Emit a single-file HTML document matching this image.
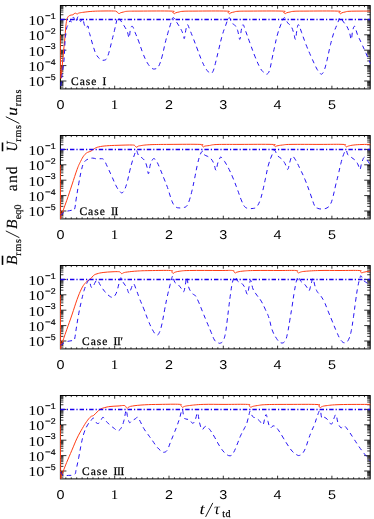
<!DOCTYPE html>
<html><head><meta charset="utf-8"><title>fig</title>
<style>
html,body{margin:0;padding:0;background:#fff;}
body{width:374px;height:519px;overflow:hidden;}
svg text{font-family:"Liberation Serif",serif;fill:#000;}
svg text{filter:grayscale(1);text-rendering:geometricPrecision;}
svg text.mono{font-family:"Liberation Sans",sans-serif;}
</style></head><body>
<svg width="374" height="519" viewBox="0 0 374 519" style="display:block">
<rect width="374" height="519" fill="#fff"/>
<defs>
<clipPath id="c0"><rect x="59.8" y="5" width="311" height="84.4"/></clipPath>
<clipPath id="c1"><rect x="59.8" y="135" width="311" height="84.4"/></clipPath>
<clipPath id="c2"><rect x="59.8" y="265" width="311" height="84.4"/></clipPath>
<clipPath id="c3"><rect x="59.8" y="395" width="311" height="84.4"/></clipPath>
</defs>
<path d="M60.4 19.4h6M370.2 19.4h-6M60.4 14.76h3M370.2 14.76h-3M60.4 12.05h3M370.2 12.05h-3M60.4 10.13h3M370.2 10.13h-3M60.4 8.64h3M370.2 8.64h-3M60.4 7.42h3M370.2 7.42h-3M60.4 6.39h3M370.2 6.39h-3M60.4 34.8h6M370.2 34.8h-6M60.4 30.16h3M370.2 30.16h-3M60.4 27.45h3M370.2 27.45h-3M60.4 25.53h3M370.2 25.53h-3M60.4 24.04h3M370.2 24.04h-3M60.4 22.82h3M370.2 22.82h-3M60.4 21.79h3M370.2 21.79h-3M60.4 20.89h3M370.2 20.89h-3M60.4 20.1h3M370.2 20.1h-3M60.4 50.2h6M370.2 50.2h-6M60.4 45.56h3M370.2 45.56h-3M60.4 42.85h3M370.2 42.85h-3M60.4 40.93h3M370.2 40.93h-3M60.4 39.44h3M370.2 39.44h-3M60.4 38.22h3M370.2 38.22h-3M60.4 37.19h3M370.2 37.19h-3M60.4 36.29h3M370.2 36.29h-3M60.4 35.5h3M370.2 35.5h-3M60.4 65.6h6M370.2 65.6h-6M60.4 60.96h3M370.2 60.96h-3M60.4 58.25h3M370.2 58.25h-3M60.4 56.33h3M370.2 56.33h-3M60.4 54.84h3M370.2 54.84h-3M60.4 53.62h3M370.2 53.62h-3M60.4 52.59h3M370.2 52.59h-3M60.4 51.69h3M370.2 51.69h-3M60.4 50.9h3M370.2 50.9h-3M60.4 81h6M370.2 81h-6M60.4 76.36h3M370.2 76.36h-3M60.4 73.65h3M370.2 73.65h-3M60.4 71.73h3M370.2 71.73h-3M60.4 70.24h3M370.2 70.24h-3M60.4 69.02h3M370.2 69.02h-3M60.4 67.99h3M370.2 67.99h-3M60.4 67.09h3M370.2 67.09h-3M60.4 66.3h3M370.2 66.3h-3M60.4 87.13h3M370.2 87.13h-3M60.4 85.64h3M370.2 85.64h-3M60.4 84.42h3M370.2 84.42h-3M60.4 83.39h3M370.2 83.39h-3M60.4 82.49h3M370.2 82.49h-3M60.4 81.7h3M370.2 81.7h-3M65.83 88.9v-1.6M65.83 5.5v1.6M71.26 88.9v-1.6M71.26 5.5v1.6M76.69 88.9v-1.6M76.69 5.5v1.6M82.12 88.9v-1.6M82.12 5.5v1.6M87.55 88.9v-1.6M87.55 5.5v1.6M92.98 88.9v-1.6M92.98 5.5v1.6M98.41 88.9v-1.6M98.41 5.5v1.6M103.84 88.9v-1.6M103.84 5.5v1.6M109.27 88.9v-1.6M109.27 5.5v1.6M114.7 88.9v-3.2M114.7 5.5v3.2M120.13 88.9v-1.6M120.13 5.5v1.6M125.56 88.9v-1.6M125.56 5.5v1.6M130.99 88.9v-1.6M130.99 5.5v1.6M136.42 88.9v-1.6M136.42 5.5v1.6M141.85 88.9v-1.6M141.85 5.5v1.6M147.28 88.9v-1.6M147.28 5.5v1.6M152.71 88.9v-1.6M152.71 5.5v1.6M158.14 88.9v-1.6M158.14 5.5v1.6M163.57 88.9v-1.6M163.57 5.5v1.6M169 88.9v-3.2M169 5.5v3.2M174.43 88.9v-1.6M174.43 5.5v1.6M179.86 88.9v-1.6M179.86 5.5v1.6M185.29 88.9v-1.6M185.29 5.5v1.6M190.72 88.9v-1.6M190.72 5.5v1.6M196.15 88.9v-1.6M196.15 5.5v1.6M201.58 88.9v-1.6M201.58 5.5v1.6M207.01 88.9v-1.6M207.01 5.5v1.6M212.44 88.9v-1.6M212.44 5.5v1.6M217.87 88.9v-1.6M217.87 5.5v1.6M223.3 88.9v-3.2M223.3 5.5v3.2M228.73 88.9v-1.6M228.73 5.5v1.6M234.16 88.9v-1.6M234.16 5.5v1.6M239.59 88.9v-1.6M239.59 5.5v1.6M245.02 88.9v-1.6M245.02 5.5v1.6M250.45 88.9v-1.6M250.45 5.5v1.6M255.88 88.9v-1.6M255.88 5.5v1.6M261.31 88.9v-1.6M261.31 5.5v1.6M266.74 88.9v-1.6M266.74 5.5v1.6M272.17 88.9v-1.6M272.17 5.5v1.6M277.6 88.9v-3.2M277.6 5.5v3.2M283.03 88.9v-1.6M283.03 5.5v1.6M288.46 88.9v-1.6M288.46 5.5v1.6M293.89 88.9v-1.6M293.89 5.5v1.6M299.32 88.9v-1.6M299.32 5.5v1.6M304.75 88.9v-1.6M304.75 5.5v1.6M310.18 88.9v-1.6M310.18 5.5v1.6M315.61 88.9v-1.6M315.61 5.5v1.6M321.04 88.9v-1.6M321.04 5.5v1.6M326.47 88.9v-1.6M326.47 5.5v1.6M331.9 88.9v-3.2M331.9 5.5v3.2M337.33 88.9v-1.6M337.33 5.5v1.6M342.76 88.9v-1.6M342.76 5.5v1.6M348.19 88.9v-1.6M348.19 5.5v1.6M353.62 88.9v-1.6M353.62 5.5v1.6M359.05 88.9v-1.6M359.05 5.5v1.6M364.48 88.9v-1.6M364.48 5.5v1.6" stroke="#000" stroke-width="0.8" fill="none"/>
<rect x="60.4" y="5.5" width="309.8" height="83.4" fill="none" stroke="#000" stroke-width="1.0"/>
<g clip-path="url(#c0)" fill="none" stroke-linejoin="round">
<path d="M60.3 35C60.34 40 60.4 51.6 60.5 60C60.6 68.4 60.6 74.2 60.8 77C61 79.8 61.02 78.4 61.5 74C61.98 69.6 62.52 62.26 63.2 55C63.88 47.74 64.32 43.94 64.9 37.7C65.48 31.46 65.58 27.8 66.1 23.8C66.62 19.8 66.7 19.4 67.5 17.7C68.3 16 69.04 15.88 70.1 15.3C71.16 14.72 71.86 15.2 72.8 14.8C73.74 14.4 74.16 13.58 74.8 13.3C75.44 13.02 75.52 13.26 76 13.4C76.48 13.54 76.7 14.04 77.2 14C77.7 13.96 77.94 13.44 78.5 13.2C79.06 12.96 78.9 13 80 12.8C81.1 12.6 81.46 12.5 84 12.2C86.54 11.9 88.9 11.54 92.7 11.3C96.5 11.06 98.84 11.06 103 11C107.16 10.94 110.9 10.94 113.5 11C116.1 11.06 115.14 10.98 116 11.3C116.86 11.62 117.2 12.11 117.8 12.6C118.4 13.09 118.46 13.71 119 13.75C119.54 13.79 119.58 13.15 120.5 12.8C121.42 12.45 122.24 12.3 123.6 12C124.96 11.7 124.02 11.48 127.3 11.3C130.58 11.12 131.26 11.14 140 11.1C148.74 11.06 164.44 10.84 171 11.1C177.56 11.36 172.16 11.87 172.8 12.4C173.44 12.93 173.62 13.67 174.2 13.75C174.78 13.83 174.74 13.15 175.7 12.8C176.66 12.45 177.54 12.3 179 12C180.46 11.7 179.8 11.48 183 11.3C186.2 11.12 186.36 11.14 195 11.1C203.64 11.06 219.6 10.84 226.2 11.1C232.8 11.36 227.36 11.87 228 12.4C228.64 12.93 228.82 13.67 229.4 13.75C229.98 13.83 229.98 13.15 230.9 12.8C231.82 12.45 232.58 12.3 234 12C235.42 11.7 234.8 11.48 238 11.3C241.2 11.12 241.22 11.14 250 11.1C258.78 11.06 275.16 10.84 281.9 11.1C288.64 11.36 283.06 11.87 283.7 12.4C284.34 12.93 284.52 13.67 285.1 13.75C285.68 13.83 285.62 13.15 286.6 12.8C287.58 12.45 288.52 12.3 290 12C291.48 11.7 290.8 11.48 294 11.3C297.2 11.12 297.36 11.14 306 11.1C314.64 11.06 330.6 10.84 337.2 11.1C343.8 11.36 338.36 11.87 339 12.4C339.64 12.93 339.82 13.67 340.4 13.75C340.98 13.83 340.98 13.15 341.9 12.8C342.82 12.45 343.58 12.3 345 12C346.42 11.7 346 11.48 349 11.3C352 11.12 355.72 11.14 360 11.1C364.28 11.06 368.32 11.1 370.4 11.1" stroke="#ff3c14" stroke-width="1.0"/>
<path d="M60.8 86C61.04 83.88 61.56 78.96 62 75.4C62.44 71.84 62.56 71.78 63 68.2C63.44 64.62 63.8 62.74 64.2 57.5C64.6 52.26 64.72 46.6 65 42C65.28 37.4 65.26 37.3 65.6 34.5C65.94 31.7 66.24 29.86 66.7 28C67.16 26.14 67.42 26.3 67.9 25.2C68.38 24.1 68.64 23.44 69.1 22.5C69.56 21.56 69.82 20.6 70.2 20.5C70.58 20.4 70.64 21.9 71 22C71.36 22.1 71.54 21.96 72 21C72.46 20.04 72.78 17.5 73.3 17.2C73.82 16.9 74.14 18.54 74.6 19.5C75.06 20.46 75.16 21.9 75.6 22C76.04 22.1 76.34 21.04 76.8 20C77.26 18.96 77.4 17 77.9 16.8C78.4 16.6 78.76 18.06 79.3 19C79.84 19.94 80.1 21.4 80.6 21.5C81.1 21.6 81.32 20.04 81.8 19.5C82.28 18.96 82.56 17.98 83 18.8C83.44 19.62 83.54 22 84 23.6C84.46 25.2 84.8 25.96 85.3 26.8C85.8 27.64 85.96 27.96 86.5 27.8C87.04 27.64 87.52 25.3 88 26C88.48 26.7 88.5 29.52 88.9 31.3C89.3 33.08 89.24 32.24 90 34.9C90.76 37.56 91.48 40.74 92.7 44.6C93.92 48.46 94.54 51.24 96.1 54.2C97.66 57.16 98.92 58.2 100.5 59.4C102.08 60.6 102.78 60.38 104 60.2C105.22 60.02 105.56 60.22 106.6 58.5C107.64 56.78 108.16 55.08 109.2 51.6C110.24 48.12 110.76 45.28 111.8 41.1C112.84 36.92 113.48 34.52 114.4 30.7C115.32 26.88 115.72 24.6 116.4 22C117.08 19.4 117 18.04 117.8 17.7C118.6 17.36 119.18 18.74 120.4 20.3C121.62 21.86 122.52 23.24 123.9 25.5C125.28 27.76 126.26 29.16 127.3 31.6C128.34 34.04 128.46 38.22 129.1 37.7C129.74 37.18 129.82 31.26 130.5 29C131.18 26.74 131.58 25.7 132.5 26.4C133.42 27.1 133.88 29.56 135.1 32.5C136.32 35.44 137.04 36.94 138.6 41.1C140.16 45.26 141.16 48.96 142.9 53.3C144.64 57.64 145.56 59.86 147.3 62.8C149.04 65.74 150.04 66.78 151.6 68C153.16 69.22 153.7 69.24 155.1 68.9C156.5 68.56 157.22 68.72 158.6 66.3C159.98 63.88 160.68 61.48 162 56.8C163.32 52.12 164.04 47.6 165.2 42.9C166.36 38.2 166.76 36.94 167.8 33.3C168.84 29.66 169.36 27.82 170.4 24.7C171.44 21.58 171.78 18.24 173 17.7C174.22 17.16 174.94 19.74 176.5 22C178.06 24.26 179.5 26.6 180.8 29C182.1 31.4 182.3 32.1 183 34C183.7 35.9 183.76 39.16 184.3 38.5C184.84 37.84 185.08 33.46 185.7 30.7C186.32 27.94 186.64 25.04 187.4 24.7C188.16 24.36 188.38 26.4 189.5 29C190.62 31.6 191.44 33.7 193 37.7C194.56 41.7 195.58 44.5 197.3 49C199.02 53.5 199.86 56.22 201.6 60.2C203.34 64.18 204.26 66.3 206 68.9C207.74 71.5 208.92 72.68 210.3 73.2C211.68 73.72 211.9 73.4 212.9 71.5C213.9 69.6 214.18 67.9 215.3 63.7C216.42 59.5 217.14 56.06 218.5 50.5C219.86 44.94 220.68 40.9 222.1 35.9C223.52 30.9 224.2 29.14 225.6 25.5C227 21.86 227.88 18.22 229.1 17.7C230.32 17.18 230.5 21.34 231.7 22.9C232.9 24.46 233.9 23.94 235.1 25.5C236.3 27.06 236.76 27.92 237.7 30.7C238.64 33.48 239.1 39.4 239.8 39.4C240.5 39.4 240.56 33.64 241.2 30.7C241.84 27.76 242.14 24.7 243 24.7C243.86 24.7 244.12 27.06 245.5 30.7C246.88 34.34 247.98 37.68 249.9 42.9C251.82 48.12 253.04 51.78 255.1 56.8C257.16 61.82 258.42 64.84 260.2 68C261.98 71.16 262.64 71.38 264 72.6C265.36 73.82 265.86 74.66 267 74.1C268.14 73.54 268.68 72.92 269.7 69.8C270.72 66.68 271.1 63.18 272.1 58.5C273.1 53.82 273.66 51.08 274.7 46.4C275.74 41.72 276.08 39.44 277.3 35.1C278.52 30.76 279.4 28.18 280.8 24.7C282.2 21.22 282.92 18.06 284.3 17.7C285.68 17.34 286.32 21.16 287.7 22.9C289.08 24.64 290 24.38 291.2 26.4C292.4 28.42 292.84 30.4 293.7 33C294.56 35.6 294.88 39.86 295.5 39.4C296.12 38.94 296.2 33.64 296.8 30.7C297.4 27.76 297.54 24.34 298.5 24.7C299.46 25.06 300.1 28.52 301.6 32.5C303.1 36.48 304.08 39.74 306 44.6C307.92 49.46 309.12 52.12 311.2 56.8C313.28 61.48 314.74 64.84 316.4 68C318.06 71.16 318.42 71.38 319.5 72.6C320.58 73.82 320.82 74.66 321.8 74.1C322.78 73.54 323.36 72.58 324.4 69.8C325.44 67.02 325.78 65.24 327 60.2C328.22 55.16 329.12 50.14 330.5 44.6C331.88 39.06 332.52 36.66 333.9 32.5C335.28 28.34 336.18 26.76 337.4 23.8C338.62 20.84 338.78 18.06 340 17.7C341.22 17.34 342.12 20.26 343.5 22C344.88 23.74 345.68 24.2 346.9 26.4C348.12 28.6 348.72 30.4 349.6 33C350.48 35.6 350.7 39.8 351.3 39.4C351.9 39 351.92 33.6 352.6 31C353.28 28.4 353.76 25.76 354.7 26.4C355.64 27.04 355.9 30.74 357.3 34.2C358.7 37.66 359.96 39.88 361.7 43.7C363.44 47.52 364.26 49.34 366 53.3C367.74 57.26 369.52 61.46 370.4 63.5" stroke="#2614f4" stroke-width="1.0" stroke-dasharray="4.4 3.7"/>
<path d="M60.4 19.5H370.2" stroke="#1a00f0" stroke-width="1.35" stroke-dasharray="4.4 2 1.2 2"/>
</g>
<text x="28.3" y="24.8" font-size="13.6" textLength="16.0" lengthAdjust="spacingAndGlyphs">10</text>
<path d="M45.4 15.7H50.3" stroke="#000" stroke-width="1.0" fill="none"/>
<text x="50.7" y="18.6" font-size="8.4" class="mono" textLength="4.9" lengthAdjust="spacingAndGlyphs" stroke="#000" stroke-width="0.2">1</text>
<text x="28.3" y="40.2" font-size="13.6" textLength="16.0" lengthAdjust="spacingAndGlyphs">10</text>
<path d="M45.4 31.1H50.3" stroke="#000" stroke-width="1.0" fill="none"/>
<text x="50.7" y="34" font-size="8.4" class="mono" textLength="4.9" lengthAdjust="spacingAndGlyphs" stroke="#000" stroke-width="0.2">2</text>
<text x="28.3" y="55.6" font-size="13.6" textLength="16.0" lengthAdjust="spacingAndGlyphs">10</text>
<path d="M45.4 46.5H50.3" stroke="#000" stroke-width="1.0" fill="none"/>
<text x="50.7" y="49.4" font-size="8.4" class="mono" textLength="4.9" lengthAdjust="spacingAndGlyphs" stroke="#000" stroke-width="0.2">3</text>
<text x="28.3" y="71" font-size="13.6" textLength="16.0" lengthAdjust="spacingAndGlyphs">10</text>
<path d="M45.4 61.9H50.3" stroke="#000" stroke-width="1.0" fill="none"/>
<text x="50.7" y="64.8" font-size="8.4" class="mono" textLength="4.9" lengthAdjust="spacingAndGlyphs" stroke="#000" stroke-width="0.2">4</text>
<text x="28.3" y="86.4" font-size="13.6" textLength="16.0" lengthAdjust="spacingAndGlyphs">10</text>
<path d="M45.4 77.3H50.3" stroke="#000" stroke-width="1.0" fill="none"/>
<text x="50.7" y="80.2" font-size="8.4" class="mono" textLength="4.9" lengthAdjust="spacingAndGlyphs" stroke="#000" stroke-width="0.2">5</text>
<text x="56.4" y="108.5" font-size="12.8" class="mono" textLength="8.0" lengthAdjust="spacingAndGlyphs">0</text>
<text x="110.8" y="108.5" font-size="13.4" textLength="7.6" lengthAdjust="spacingAndGlyphs">1</text>
<text x="165" y="108.5" font-size="12.8" class="mono" textLength="8.0" lengthAdjust="spacingAndGlyphs">2</text>
<text x="219.3" y="108.5" font-size="12.8" class="mono" textLength="8.0" lengthAdjust="spacingAndGlyphs">3</text>
<text x="273.6" y="108.5" font-size="12.8" class="mono" textLength="8.0" lengthAdjust="spacingAndGlyphs">4</text>
<text x="327.9" y="108.5" font-size="12.8" class="mono" textLength="8.0" lengthAdjust="spacingAndGlyphs">5</text>
<text x="71" y="85" font-size="11.5" letter-spacing="1.0" stroke="#000" stroke-width="0.25">Case</text>
<text x="102.5" y="85" font-size="11.5" letter-spacing="-0.3" stroke="#000" stroke-width="0.25">I</text>
<path d="M60.4 149.4h6M370.2 149.4h-6M60.4 144.76h3M370.2 144.76h-3M60.4 142.05h3M370.2 142.05h-3M60.4 140.13h3M370.2 140.13h-3M60.4 138.64h3M370.2 138.64h-3M60.4 137.42h3M370.2 137.42h-3M60.4 136.39h3M370.2 136.39h-3M60.4 164.8h6M370.2 164.8h-6M60.4 160.16h3M370.2 160.16h-3M60.4 157.45h3M370.2 157.45h-3M60.4 155.53h3M370.2 155.53h-3M60.4 154.04h3M370.2 154.04h-3M60.4 152.82h3M370.2 152.82h-3M60.4 151.79h3M370.2 151.79h-3M60.4 150.89h3M370.2 150.89h-3M60.4 150.1h3M370.2 150.1h-3M60.4 180.2h6M370.2 180.2h-6M60.4 175.56h3M370.2 175.56h-3M60.4 172.85h3M370.2 172.85h-3M60.4 170.93h3M370.2 170.93h-3M60.4 169.44h3M370.2 169.44h-3M60.4 168.22h3M370.2 168.22h-3M60.4 167.19h3M370.2 167.19h-3M60.4 166.29h3M370.2 166.29h-3M60.4 165.5h3M370.2 165.5h-3M60.4 195.6h6M370.2 195.6h-6M60.4 190.96h3M370.2 190.96h-3M60.4 188.25h3M370.2 188.25h-3M60.4 186.33h3M370.2 186.33h-3M60.4 184.84h3M370.2 184.84h-3M60.4 183.62h3M370.2 183.62h-3M60.4 182.59h3M370.2 182.59h-3M60.4 181.69h3M370.2 181.69h-3M60.4 180.9h3M370.2 180.9h-3M60.4 211h6M370.2 211h-6M60.4 206.36h3M370.2 206.36h-3M60.4 203.65h3M370.2 203.65h-3M60.4 201.73h3M370.2 201.73h-3M60.4 200.24h3M370.2 200.24h-3M60.4 199.02h3M370.2 199.02h-3M60.4 197.99h3M370.2 197.99h-3M60.4 197.09h3M370.2 197.09h-3M60.4 196.3h3M370.2 196.3h-3M60.4 217.13h3M370.2 217.13h-3M60.4 215.64h3M370.2 215.64h-3M60.4 214.42h3M370.2 214.42h-3M60.4 213.39h3M370.2 213.39h-3M60.4 212.49h3M370.2 212.49h-3M60.4 211.7h3M370.2 211.7h-3M65.83 218.9v-1.6M65.83 135.5v1.6M71.26 218.9v-1.6M71.26 135.5v1.6M76.69 218.9v-1.6M76.69 135.5v1.6M82.12 218.9v-1.6M82.12 135.5v1.6M87.55 218.9v-1.6M87.55 135.5v1.6M92.98 218.9v-1.6M92.98 135.5v1.6M98.41 218.9v-1.6M98.41 135.5v1.6M103.84 218.9v-1.6M103.84 135.5v1.6M109.27 218.9v-1.6M109.27 135.5v1.6M114.7 218.9v-3.2M114.7 135.5v3.2M120.13 218.9v-1.6M120.13 135.5v1.6M125.56 218.9v-1.6M125.56 135.5v1.6M130.99 218.9v-1.6M130.99 135.5v1.6M136.42 218.9v-1.6M136.42 135.5v1.6M141.85 218.9v-1.6M141.85 135.5v1.6M147.28 218.9v-1.6M147.28 135.5v1.6M152.71 218.9v-1.6M152.71 135.5v1.6M158.14 218.9v-1.6M158.14 135.5v1.6M163.57 218.9v-1.6M163.57 135.5v1.6M169 218.9v-3.2M169 135.5v3.2M174.43 218.9v-1.6M174.43 135.5v1.6M179.86 218.9v-1.6M179.86 135.5v1.6M185.29 218.9v-1.6M185.29 135.5v1.6M190.72 218.9v-1.6M190.72 135.5v1.6M196.15 218.9v-1.6M196.15 135.5v1.6M201.58 218.9v-1.6M201.58 135.5v1.6M207.01 218.9v-1.6M207.01 135.5v1.6M212.44 218.9v-1.6M212.44 135.5v1.6M217.87 218.9v-1.6M217.87 135.5v1.6M223.3 218.9v-3.2M223.3 135.5v3.2M228.73 218.9v-1.6M228.73 135.5v1.6M234.16 218.9v-1.6M234.16 135.5v1.6M239.59 218.9v-1.6M239.59 135.5v1.6M245.02 218.9v-1.6M245.02 135.5v1.6M250.45 218.9v-1.6M250.45 135.5v1.6M255.88 218.9v-1.6M255.88 135.5v1.6M261.31 218.9v-1.6M261.31 135.5v1.6M266.74 218.9v-1.6M266.74 135.5v1.6M272.17 218.9v-1.6M272.17 135.5v1.6M277.6 218.9v-3.2M277.6 135.5v3.2M283.03 218.9v-1.6M283.03 135.5v1.6M288.46 218.9v-1.6M288.46 135.5v1.6M293.89 218.9v-1.6M293.89 135.5v1.6M299.32 218.9v-1.6M299.32 135.5v1.6M304.75 218.9v-1.6M304.75 135.5v1.6M310.18 218.9v-1.6M310.18 135.5v1.6M315.61 218.9v-1.6M315.61 135.5v1.6M321.04 218.9v-1.6M321.04 135.5v1.6M326.47 218.9v-1.6M326.47 135.5v1.6M331.9 218.9v-3.2M331.9 135.5v3.2M337.33 218.9v-1.6M337.33 135.5v1.6M342.76 218.9v-1.6M342.76 135.5v1.6M348.19 218.9v-1.6M348.19 135.5v1.6M353.62 218.9v-1.6M353.62 135.5v1.6M359.05 218.9v-1.6M359.05 135.5v1.6M364.48 218.9v-1.6M364.48 135.5v1.6" stroke="#000" stroke-width="0.8" fill="none"/>
<rect x="60.4" y="135.5" width="309.8" height="83.4" fill="none" stroke="#000" stroke-width="1.0"/>
<g clip-path="url(#c1)" fill="none" stroke-linejoin="round">
<path d="M60.3 165C60.34 171 60.42 184.7 60.5 195C60.58 205.3 60.56 212.4 60.7 216.5C60.84 220.6 60 218.68 61.2 215.5C62.4 212.32 64.56 206.7 66.7 200.6C68.84 194.5 69.82 191.24 71.9 185C73.98 178.76 75.38 174.08 77.1 169.4C78.82 164.72 79.12 164.38 80.5 161.6C81.88 158.82 82.6 157.34 84 155.5C85.4 153.66 86.12 153.26 87.5 152.4C88.88 151.54 89.52 151.96 90.9 151.2C92.28 150.44 92.84 149.46 94.4 148.6C95.96 147.74 96.26 147.46 98.7 146.9C101.14 146.34 102.74 146.12 106.6 145.8C110.46 145.48 112.82 145.46 118 145.3C123.18 145.14 129.14 144.9 132.5 145C135.86 145.1 134.02 145.36 134.8 145.8C135.58 146.24 135.76 147.1 136.4 147.2C137.04 147.3 137.22 146.6 138 146.3C138.78 146 137.92 146.02 140.3 145.7C142.68 145.38 143.96 144.96 149.9 144.7C155.84 144.44 160 144.46 170 144.4C180 144.34 193.52 144.16 199.9 144.4C206.28 144.64 201.22 145.1 201.9 145.6C202.58 146.1 202.68 146.8 203.3 146.9C203.92 147 203.78 146.38 205 146.1C206.22 145.82 207.02 145.82 209.4 145.5C211.78 145.18 210.78 144.72 216.9 144.5C223.02 144.28 229 144.42 240 144.4C251 144.38 265.12 144.2 271.9 144.4C278.68 144.6 273.22 144.96 273.9 145.4C274.58 145.84 274.68 146.5 275.3 146.6C275.92 146.7 275.56 146.22 277 145.9C278.44 145.58 279.7 145.3 282.5 145C285.3 144.7 283.5 144.52 291 144.4C298.5 144.28 309.6 144.4 320 144.4C330.4 144.4 338 144.16 343 144.4C348 144.64 344.28 145.1 345 145.6C345.72 146.1 345.9 146.82 346.6 146.9C347.3 146.98 347.04 146.38 348.5 146C349.96 145.62 351.2 145.3 353.9 145C356.6 144.7 358.7 144.62 362 144.5C365.3 144.38 368.72 144.42 370.4 144.4" stroke="#ff3c14" stroke-width="1.0"/>
<path d="M60.6 215.4C61.46 214.7 62.64 212.94 64.9 211.9C67.16 210.86 69.98 210.72 71.9 210.2C73.82 209.68 73.64 211.56 74.5 209.3C75.36 207.04 75.34 204.1 76.2 198.9C77.06 193.7 77.76 189.02 78.8 183.3C79.84 177.58 80.36 174.46 81.4 170.3C82.44 166.14 82.62 164.76 84 162.5C85.38 160.24 86.56 159.88 88.3 159C90.04 158.12 90.96 158.1 92.7 158.1C94.44 158.1 95.26 158.88 97 159C98.74 159.12 100 158.52 101.4 158.7C102.8 158.88 102.8 158.28 104 159.9C105.2 161.52 105.84 163.52 107.4 166.8C108.96 170.08 110.06 172.48 111.8 176.3C113.54 180.12 114.56 182.96 116.1 185.9C117.64 188.84 118.3 189.62 119.5 191C120.7 192.38 121.06 193.12 122.1 192.8C123.14 192.48 123.66 191.64 124.7 189.4C125.74 187.16 126.26 185.42 127.3 181.6C128.34 177.78 128.86 174.48 129.9 170.3C130.94 166.12 131.46 164.18 132.5 160.7C133.54 157.22 134.32 154.98 135.1 152.9C135.88 150.82 135.7 149.78 136.4 150.3C137.1 150.82 137.64 154.1 138.6 155.5C139.56 156.9 139.98 156.26 141.2 157.3C142.42 158.34 143.54 158.76 144.7 160.7C145.86 162.64 146.24 164.4 147 167C147.76 169.6 147.86 174.08 148.5 173.7C149.14 173.32 149.44 167.84 150.2 165.1C150.96 162.36 151.5 161.28 152.3 160C153.1 158.72 153.3 158.38 154.2 158.7C155.1 159.02 155.58 159.46 156.8 161.6C158.02 163.74 158.9 166.1 160.3 169.4C161.7 172.7 162.36 174.48 163.8 178.1C165.24 181.72 165.84 182.82 167.5 187.5C169.16 192.18 170.48 197.66 172.1 201.5C173.72 205.34 174.2 205.42 175.6 206.7C177 207.98 177.54 207.72 179.1 207.9C180.66 208.08 181.84 208.02 183.4 207.6C184.96 207.18 185.68 207.36 186.9 205.8C188.12 204.24 188.46 202.92 189.5 199.8C190.54 196.68 191.06 194.54 192.1 190.2C193.14 185.86 193.66 183.12 194.7 178.1C195.74 173.08 196.26 169.62 197.3 165.1C198.34 160.58 198.86 158.28 199.9 155.5C200.94 152.72 201.64 151.36 202.5 151.2C203.36 151.04 203.16 153.66 204.2 154.7C205.24 155.74 206.3 155.54 207.7 156.4C209.1 157.26 209.94 157.48 211.2 159C212.46 160.52 213.04 161.74 214 164C214.96 166.26 215.24 170.5 216 170.3C216.76 170.1 217 165.46 217.8 163C218.6 160.54 219.3 159.14 220 158C220.7 156.86 220.36 156.58 221.3 157.3C222.24 158.02 223.14 159.18 224.7 161.6C226.26 164.02 227.36 165.92 229.1 169.4C230.84 172.88 231.68 174.84 233.4 179C235.12 183.16 236.14 186.04 237.7 190.2C239.26 194.36 239.8 196.5 241.2 199.8C242.6 203.1 243.14 204.98 244.7 206.7C246.26 208.42 247.28 208.06 249 208.4C250.72 208.74 251.74 208.74 253.3 208.4C254.86 208.06 255.4 208.42 256.8 206.7C258.2 204.98 259.08 203.1 260.3 199.8C261.52 196.5 261.88 194.4 262.9 190.2C263.92 186 264.3 183.82 265.4 178.8C266.5 173.78 267.06 169.92 268.4 165.1C269.74 160.28 270.84 157.66 272.1 154.7C273.36 151.74 273.66 150.14 274.7 150.3C275.74 150.46 275.9 153.76 277.3 155.5C278.7 157.24 280.16 157.4 281.7 159C283.24 160.6 283.8 161.42 285 163.5C286.2 165.58 286.76 169.6 287.7 169.4C288.64 169.2 288.82 165.1 289.7 162.5C290.58 159.9 290.94 156.92 292.1 156.4C293.26 155.88 293.94 157.48 295.5 159.9C297.06 162.32 297.98 164.52 299.9 168.5C301.82 172.48 303.02 174.76 305.1 179.8C307.18 184.84 308.4 188.5 310.3 193.7C312.2 198.9 313.18 202.9 314.6 205.8C316.02 208.7 315.96 207.56 317.4 208.2C318.84 208.84 319.88 209.06 321.8 209C323.72 208.94 325.26 208.88 327 207.9C328.74 206.92 329.28 206.42 330.5 204.1C331.72 201.78 332.06 200.12 333.1 196.3C334.14 192.48 334.66 189.34 335.7 185C336.74 180.66 337.26 178.94 338.3 174.6C339.34 170.26 339.86 167.28 340.9 163.3C341.94 159.32 342.46 157.3 343.5 154.7C344.54 152.1 345.24 150.3 346.1 150.3C346.96 150.3 346.76 153.3 347.8 154.7C348.84 156.1 349.74 156.1 351.3 157.3C352.86 158.5 354.22 159.16 355.6 160.7C356.98 162.24 357.32 163.26 358.2 165C359.08 166.74 359.28 169.9 360 169.4C360.72 168.9 360.94 164.92 361.8 162.5C362.66 160.08 363.28 157.82 364.3 157.3C365.32 156.78 365.68 158.34 366.9 159.9C368.12 161.46 369.7 164.06 370.4 165.1" stroke="#2614f4" stroke-width="1.0" stroke-dasharray="4.4 3.7"/>
<path d="M60.4 149.5H370.2" stroke="#1a00f0" stroke-width="1.35" stroke-dasharray="4.4 2 1.2 2"/>
</g>
<text x="28.3" y="154.8" font-size="13.6" textLength="16.0" lengthAdjust="spacingAndGlyphs">10</text>
<path d="M45.4 145.7H50.3" stroke="#000" stroke-width="1.0" fill="none"/>
<text x="50.7" y="148.6" font-size="8.4" class="mono" textLength="4.9" lengthAdjust="spacingAndGlyphs" stroke="#000" stroke-width="0.2">1</text>
<text x="28.3" y="170.2" font-size="13.6" textLength="16.0" lengthAdjust="spacingAndGlyphs">10</text>
<path d="M45.4 161.1H50.3" stroke="#000" stroke-width="1.0" fill="none"/>
<text x="50.7" y="164" font-size="8.4" class="mono" textLength="4.9" lengthAdjust="spacingAndGlyphs" stroke="#000" stroke-width="0.2">2</text>
<text x="28.3" y="185.6" font-size="13.6" textLength="16.0" lengthAdjust="spacingAndGlyphs">10</text>
<path d="M45.4 176.5H50.3" stroke="#000" stroke-width="1.0" fill="none"/>
<text x="50.7" y="179.4" font-size="8.4" class="mono" textLength="4.9" lengthAdjust="spacingAndGlyphs" stroke="#000" stroke-width="0.2">3</text>
<text x="28.3" y="201" font-size="13.6" textLength="16.0" lengthAdjust="spacingAndGlyphs">10</text>
<path d="M45.4 191.9H50.3" stroke="#000" stroke-width="1.0" fill="none"/>
<text x="50.7" y="194.8" font-size="8.4" class="mono" textLength="4.9" lengthAdjust="spacingAndGlyphs" stroke="#000" stroke-width="0.2">4</text>
<text x="28.3" y="216.4" font-size="13.6" textLength="16.0" lengthAdjust="spacingAndGlyphs">10</text>
<path d="M45.4 207.3H50.3" stroke="#000" stroke-width="1.0" fill="none"/>
<text x="50.7" y="210.2" font-size="8.4" class="mono" textLength="4.9" lengthAdjust="spacingAndGlyphs" stroke="#000" stroke-width="0.2">5</text>
<text x="56.4" y="238.5" font-size="12.8" class="mono" textLength="8.0" lengthAdjust="spacingAndGlyphs">0</text>
<text x="110.8" y="238.5" font-size="13.4" textLength="7.6" lengthAdjust="spacingAndGlyphs">1</text>
<text x="165" y="238.5" font-size="12.8" class="mono" textLength="8.0" lengthAdjust="spacingAndGlyphs">2</text>
<text x="219.3" y="238.5" font-size="12.8" class="mono" textLength="8.0" lengthAdjust="spacingAndGlyphs">3</text>
<text x="273.6" y="238.5" font-size="12.8" class="mono" textLength="8.0" lengthAdjust="spacingAndGlyphs">4</text>
<text x="327.9" y="238.5" font-size="12.8" class="mono" textLength="8.0" lengthAdjust="spacingAndGlyphs">5</text>
<text x="79.4" y="215" font-size="11.5" letter-spacing="1.0" stroke="#000" stroke-width="0.25">Case</text>
<text x="110.9" y="215" font-size="11.5" letter-spacing="-0.3" stroke="#000" stroke-width="0.25">II</text>
<path d="M60.4 279.4h6M370.2 279.4h-6M60.4 274.76h3M370.2 274.76h-3M60.4 272.05h3M370.2 272.05h-3M60.4 270.13h3M370.2 270.13h-3M60.4 268.64h3M370.2 268.64h-3M60.4 267.42h3M370.2 267.42h-3M60.4 266.39h3M370.2 266.39h-3M60.4 294.8h6M370.2 294.8h-6M60.4 290.16h3M370.2 290.16h-3M60.4 287.45h3M370.2 287.45h-3M60.4 285.53h3M370.2 285.53h-3M60.4 284.04h3M370.2 284.04h-3M60.4 282.82h3M370.2 282.82h-3M60.4 281.79h3M370.2 281.79h-3M60.4 280.89h3M370.2 280.89h-3M60.4 280.1h3M370.2 280.1h-3M60.4 310.2h6M370.2 310.2h-6M60.4 305.56h3M370.2 305.56h-3M60.4 302.85h3M370.2 302.85h-3M60.4 300.93h3M370.2 300.93h-3M60.4 299.44h3M370.2 299.44h-3M60.4 298.22h3M370.2 298.22h-3M60.4 297.19h3M370.2 297.19h-3M60.4 296.29h3M370.2 296.29h-3M60.4 295.5h3M370.2 295.5h-3M60.4 325.6h6M370.2 325.6h-6M60.4 320.96h3M370.2 320.96h-3M60.4 318.25h3M370.2 318.25h-3M60.4 316.33h3M370.2 316.33h-3M60.4 314.84h3M370.2 314.84h-3M60.4 313.62h3M370.2 313.62h-3M60.4 312.59h3M370.2 312.59h-3M60.4 311.69h3M370.2 311.69h-3M60.4 310.9h3M370.2 310.9h-3M60.4 341h6M370.2 341h-6M60.4 336.36h3M370.2 336.36h-3M60.4 333.65h3M370.2 333.65h-3M60.4 331.73h3M370.2 331.73h-3M60.4 330.24h3M370.2 330.24h-3M60.4 329.02h3M370.2 329.02h-3M60.4 327.99h3M370.2 327.99h-3M60.4 327.09h3M370.2 327.09h-3M60.4 326.3h3M370.2 326.3h-3M60.4 347.13h3M370.2 347.13h-3M60.4 345.64h3M370.2 345.64h-3M60.4 344.42h3M370.2 344.42h-3M60.4 343.39h3M370.2 343.39h-3M60.4 342.49h3M370.2 342.49h-3M60.4 341.7h3M370.2 341.7h-3M65.83 348.9v-1.6M65.83 265.5v1.6M71.26 348.9v-1.6M71.26 265.5v1.6M76.69 348.9v-1.6M76.69 265.5v1.6M82.12 348.9v-1.6M82.12 265.5v1.6M87.55 348.9v-1.6M87.55 265.5v1.6M92.98 348.9v-1.6M92.98 265.5v1.6M98.41 348.9v-1.6M98.41 265.5v1.6M103.84 348.9v-1.6M103.84 265.5v1.6M109.27 348.9v-1.6M109.27 265.5v1.6M114.7 348.9v-3.2M114.7 265.5v3.2M120.13 348.9v-1.6M120.13 265.5v1.6M125.56 348.9v-1.6M125.56 265.5v1.6M130.99 348.9v-1.6M130.99 265.5v1.6M136.42 348.9v-1.6M136.42 265.5v1.6M141.85 348.9v-1.6M141.85 265.5v1.6M147.28 348.9v-1.6M147.28 265.5v1.6M152.71 348.9v-1.6M152.71 265.5v1.6M158.14 348.9v-1.6M158.14 265.5v1.6M163.57 348.9v-1.6M163.57 265.5v1.6M169 348.9v-3.2M169 265.5v3.2M174.43 348.9v-1.6M174.43 265.5v1.6M179.86 348.9v-1.6M179.86 265.5v1.6M185.29 348.9v-1.6M185.29 265.5v1.6M190.72 348.9v-1.6M190.72 265.5v1.6M196.15 348.9v-1.6M196.15 265.5v1.6M201.58 348.9v-1.6M201.58 265.5v1.6M207.01 348.9v-1.6M207.01 265.5v1.6M212.44 348.9v-1.6M212.44 265.5v1.6M217.87 348.9v-1.6M217.87 265.5v1.6M223.3 348.9v-3.2M223.3 265.5v3.2M228.73 348.9v-1.6M228.73 265.5v1.6M234.16 348.9v-1.6M234.16 265.5v1.6M239.59 348.9v-1.6M239.59 265.5v1.6M245.02 348.9v-1.6M245.02 265.5v1.6M250.45 348.9v-1.6M250.45 265.5v1.6M255.88 348.9v-1.6M255.88 265.5v1.6M261.31 348.9v-1.6M261.31 265.5v1.6M266.74 348.9v-1.6M266.74 265.5v1.6M272.17 348.9v-1.6M272.17 265.5v1.6M277.6 348.9v-3.2M277.6 265.5v3.2M283.03 348.9v-1.6M283.03 265.5v1.6M288.46 348.9v-1.6M288.46 265.5v1.6M293.89 348.9v-1.6M293.89 265.5v1.6M299.32 348.9v-1.6M299.32 265.5v1.6M304.75 348.9v-1.6M304.75 265.5v1.6M310.18 348.9v-1.6M310.18 265.5v1.6M315.61 348.9v-1.6M315.61 265.5v1.6M321.04 348.9v-1.6M321.04 265.5v1.6M326.47 348.9v-1.6M326.47 265.5v1.6M331.9 348.9v-3.2M331.9 265.5v3.2M337.33 348.9v-1.6M337.33 265.5v1.6M342.76 348.9v-1.6M342.76 265.5v1.6M348.19 348.9v-1.6M348.19 265.5v1.6M353.62 348.9v-1.6M353.62 265.5v1.6M359.05 348.9v-1.6M359.05 265.5v1.6M364.48 348.9v-1.6M364.48 265.5v1.6" stroke="#000" stroke-width="0.8" fill="none"/>
<rect x="60.4" y="265.5" width="309.8" height="83.4" fill="none" stroke="#000" stroke-width="1.0"/>
<g clip-path="url(#c2)" fill="none" stroke-linejoin="round">
<path d="M60.3 295C60.34 301 60.42 314.7 60.5 325C60.58 335.3 60.56 342.4 60.7 346.5C60.84 350.6 60 348.84 61.2 345.5C62.4 342.16 64.56 335.9 66.7 329.8C68.84 323.7 69.82 321.08 71.9 315C73.98 308.92 75.2 304.6 77.1 299.4C79 294.2 79.84 292.18 81.4 289C82.96 285.82 83.52 285.24 84.9 283.5C86.28 281.76 87.1 281.28 88.3 280.3C89.5 279.32 89.86 279.56 90.9 278.6C91.94 277.64 92.28 276.46 93.5 275.5C94.72 274.54 95.08 274.4 97 273.8C98.92 273.2 100.1 272.9 103.1 272.5C106.1 272.1 108.88 271.96 112 271.8C115.12 271.64 117 271.56 118.7 271.7C120.4 271.84 119.88 272.08 120.5 272.5C121.12 272.92 121.26 273.72 121.8 273.8C122.34 273.88 122.1 273.26 123.2 272.9C124.3 272.54 124.4 272.38 127.3 272C130.2 271.62 133.16 271.28 137.7 271C142.24 270.72 143.46 270.7 150 270.6C156.54 270.5 166.04 270.26 170.4 270.5C174.76 270.74 171.28 271.22 171.8 271.8C172.32 272.38 172.44 273.28 173 273.4C173.56 273.52 173.38 272.82 174.6 272.4C175.82 271.98 176.12 271.68 179.1 271.3C182.08 270.92 181.32 270.66 189.5 270.5C197.68 270.34 211.4 270.5 220 270.5C228.6 270.5 229.7 270.28 232.5 270.5C235.3 270.72 233.48 271.08 234 271.6C234.52 272.12 234.54 272.98 235.1 273.1C235.66 273.22 235.24 272.6 236.8 272.2C238.36 271.8 239.26 271.44 242.9 271.1C246.54 270.76 247.58 270.62 255 270.5C262.42 270.38 271.82 270.5 280 270.5C288.18 270.5 292.42 270.28 295.9 270.5C299.38 270.72 296.88 271.08 297.4 271.6C297.92 272.12 297.94 272.98 298.5 273.1C299.06 273.22 298.88 272.56 300.2 272.2C301.52 271.84 301.14 271.64 305.1 271.3C309.06 270.96 313.02 270.66 320 270.5C326.98 270.34 332.18 270.5 340 270.5C347.82 270.5 354.98 270.28 359.1 270.5C363.22 270.72 360.08 271.08 360.6 271.6C361.12 272.12 361.16 272.96 361.7 273.1C362.24 273.24 361.56 272.72 363.3 272.3C365.04 271.88 368.98 271.26 370.4 271" stroke="#ff3c14" stroke-width="1.0"/>
<path d="M60.6 345.4C61.64 344.7 63.2 342.94 65.8 341.9C68.4 340.86 71.8 340.98 73.6 340.2C75.4 339.42 74.28 340.26 74.8 338C75.32 335.74 75.4 333.84 76.2 328.9C77 323.96 77.76 318.86 78.8 313.3C79.84 307.74 80.36 305.62 81.4 301.1C82.44 296.58 82.96 294.16 84 290.7C85.04 287.24 85.56 285.88 86.6 283.8C87.64 281.72 88.34 279.78 89.2 280.3C90.06 280.82 90.2 285 90.9 286.4C91.6 287.8 91.82 288.16 92.7 287.3C93.58 286.44 94.34 283.5 95.3 282.1C96.26 280.7 96.46 279.62 97.5 280.3C98.54 280.98 99.04 283.24 100.5 285.5C101.96 287.76 103.06 289.52 104.8 291.6C106.54 293.68 107.64 294.76 109.2 295.9C110.76 297.04 111.4 297.46 112.6 297.3C113.8 297.14 114.28 296.46 115.2 295.1C116.12 293.74 116.46 292.76 117.2 290.5C117.94 288.24 118.18 286.36 118.9 283.8C119.62 281.24 119.98 278.04 120.8 277.7C121.62 277.36 121.86 280.18 123 282.1C124.14 284.02 125.28 285.06 126.5 287.3C127.72 289.54 128.2 292.96 129.1 293.3C130 293.64 130.14 290.9 131 289C131.86 287.1 132.4 283.8 133.4 283.8C134.4 283.8 134.78 286.06 136 289C137.22 291.94 137.94 294.52 139.5 298.5C141.06 302.48 142.08 304.56 143.8 308.9C145.52 313.24 146.36 316.02 148.1 320.2C149.84 324.38 150.82 326.84 152.5 329.8C154.18 332.76 155.12 334.48 156.5 335C157.88 335.52 158.3 334.66 159.4 332.4C160.5 330.14 160.96 328.22 162 323.7C163.04 319.18 163.56 315.18 164.6 309.8C165.64 304.42 166.08 301.86 167.2 296.8C168.32 291.74 169.08 288.68 170.2 284.5C171.32 280.32 171.9 276.38 172.8 275.9C173.7 275.42 173.62 280.34 174.7 282.1C175.78 283.86 176.8 283.32 178.2 284.7C179.6 286.08 180.58 287.62 181.7 289C182.82 290.38 183.08 292.4 183.8 291.6C184.52 290.8 184.68 287.8 185.3 285C185.92 282.2 186.24 277.2 186.9 277.6C187.56 278 187.56 283.86 188.6 287C189.64 290.14 190.72 291.52 192.1 293.3C193.48 295.08 194.12 293.98 195.5 295.9C196.88 297.82 197.6 299.76 199 302.9C200.4 306.04 200.94 307.78 202.5 311.6C204.06 315.42 205.06 317.84 206.8 322C208.54 326.16 209.64 328.76 211.2 332.4C212.76 336.04 213.22 338.12 214.6 340.2C215.98 342.28 216.94 342.22 218.1 342.8C219.26 343.38 219.42 343.46 220.4 343.1C221.38 342.74 222.02 342.8 223 341C223.98 339.2 224.5 337.9 225.3 334.1C226.1 330.3 226.32 327.2 227 322C227.68 316.8 228 313.66 228.7 308.1C229.4 302.54 229.74 299.4 230.5 294.2C231.26 289 231.58 285.56 232.5 282.1C233.42 278.64 234.06 277.08 235.1 276.9C236.14 276.72 236.48 280 237.7 281.2C238.92 282.4 239.8 281.68 241.2 282.9C242.6 284.12 243.48 285.04 244.7 287.3C245.92 289.56 246.44 294.26 247.3 294.2C248.16 294.14 248.32 289.78 249 287C249.68 284.22 249.9 279.9 250.7 280.3C251.5 280.7 251.78 286.04 253 289C254.22 291.96 255.16 292.68 256.8 295.1C258.44 297.52 259.46 298.16 261.2 301.1C262.94 304.04 263.94 306.42 265.5 309.8C267.06 313.18 267.68 314 269 318C270.32 322 270.6 325.72 272.1 329.8C273.6 333.88 274.76 335.8 276.5 338.4C278.24 341 279.08 342.28 280.8 342.8C282.52 343.32 283.72 343.08 285.1 341C286.48 338.92 286.76 336.56 287.7 332.4C288.64 328.24 288.92 325.42 289.8 320.2C290.68 314.98 291.22 311.84 292.1 306.3C292.98 300.76 293.34 297.52 294.2 292.5C295.06 287.48 295.54 284.32 296.4 281.2C297.26 278.08 297.64 276.9 298.5 276.9C299.36 276.9 299.56 279.82 300.7 281.2C301.84 282.58 302.94 282.54 304.2 283.8C305.46 285.06 306.02 286.12 307 287.5C307.98 288.88 308.3 291.3 309.1 290.7C309.9 290.1 310.24 286.92 311 284.5C311.76 282.08 312.08 278.22 312.9 278.6C313.72 278.98 314.24 283.8 315.1 286.4C315.96 289 316.12 289.78 317.2 291.6C318.28 293.42 319.06 293.42 320.5 295.5C321.94 297.58 322.92 298.96 324.4 302C325.88 305.04 326.34 306.88 327.9 310.7C329.46 314.52 330.48 316.94 332.2 321.1C333.92 325.26 334.76 327.68 336.5 331.5C338.24 335.32 339.16 337.94 340.9 340.2C342.64 342.46 343.64 342.98 345.2 342.8C346.76 342.62 347.48 341.74 348.7 339.3C349.92 336.86 350.34 335.1 351.3 330.6C352.26 326.1 352.64 322.7 353.5 316.8C354.36 310.9 354.76 307 355.6 301.1C356.44 295.2 356.82 291.98 357.7 287.3C358.58 282.62 359.3 279.96 360 277.7C360.7 275.44 360.52 275.48 361.2 276C361.88 276.52 362.26 278.92 363.4 280.3C364.54 281.68 365.5 281.68 366.9 282.9C368.3 284.12 369.7 285.7 370.4 286.4" stroke="#2614f4" stroke-width="1.0" stroke-dasharray="4.4 3.7"/>
<path d="M60.4 279.5H370.2" stroke="#1a00f0" stroke-width="1.35" stroke-dasharray="4.4 2 1.2 2"/>
</g>
<text x="28.3" y="284.8" font-size="13.6" textLength="16.0" lengthAdjust="spacingAndGlyphs">10</text>
<path d="M45.4 275.7H50.3" stroke="#000" stroke-width="1.0" fill="none"/>
<text x="50.7" y="278.6" font-size="8.4" class="mono" textLength="4.9" lengthAdjust="spacingAndGlyphs" stroke="#000" stroke-width="0.2">1</text>
<text x="28.3" y="300.2" font-size="13.6" textLength="16.0" lengthAdjust="spacingAndGlyphs">10</text>
<path d="M45.4 291.1H50.3" stroke="#000" stroke-width="1.0" fill="none"/>
<text x="50.7" y="294" font-size="8.4" class="mono" textLength="4.9" lengthAdjust="spacingAndGlyphs" stroke="#000" stroke-width="0.2">2</text>
<text x="28.3" y="315.6" font-size="13.6" textLength="16.0" lengthAdjust="spacingAndGlyphs">10</text>
<path d="M45.4 306.5H50.3" stroke="#000" stroke-width="1.0" fill="none"/>
<text x="50.7" y="309.4" font-size="8.4" class="mono" textLength="4.9" lengthAdjust="spacingAndGlyphs" stroke="#000" stroke-width="0.2">3</text>
<text x="28.3" y="331" font-size="13.6" textLength="16.0" lengthAdjust="spacingAndGlyphs">10</text>
<path d="M45.4 321.9H50.3" stroke="#000" stroke-width="1.0" fill="none"/>
<text x="50.7" y="324.8" font-size="8.4" class="mono" textLength="4.9" lengthAdjust="spacingAndGlyphs" stroke="#000" stroke-width="0.2">4</text>
<text x="28.3" y="346.4" font-size="13.6" textLength="16.0" lengthAdjust="spacingAndGlyphs">10</text>
<path d="M45.4 337.3H50.3" stroke="#000" stroke-width="1.0" fill="none"/>
<text x="50.7" y="340.2" font-size="8.4" class="mono" textLength="4.9" lengthAdjust="spacingAndGlyphs" stroke="#000" stroke-width="0.2">5</text>
<text x="56.4" y="368.5" font-size="12.8" class="mono" textLength="8.0" lengthAdjust="spacingAndGlyphs">0</text>
<text x="110.8" y="368.5" font-size="13.4" textLength="7.6" lengthAdjust="spacingAndGlyphs">1</text>
<text x="165" y="368.5" font-size="12.8" class="mono" textLength="8.0" lengthAdjust="spacingAndGlyphs">2</text>
<text x="219.3" y="368.5" font-size="12.8" class="mono" textLength="8.0" lengthAdjust="spacingAndGlyphs">3</text>
<text x="273.6" y="368.5" font-size="12.8" class="mono" textLength="8.0" lengthAdjust="spacingAndGlyphs">4</text>
<text x="327.9" y="368.5" font-size="12.8" class="mono" textLength="8.0" lengthAdjust="spacingAndGlyphs">5</text>
<text x="82" y="345" font-size="11.5" letter-spacing="1.0" stroke="#000" stroke-width="0.25">Case</text>
<text x="113.5" y="345" font-size="11.5" letter-spacing="-0.3" stroke="#000" stroke-width="0.25">II′</text>
<path d="M60.4 409.4h6M370.2 409.4h-6M60.4 404.76h3M370.2 404.76h-3M60.4 402.05h3M370.2 402.05h-3M60.4 400.13h3M370.2 400.13h-3M60.4 398.64h3M370.2 398.64h-3M60.4 397.42h3M370.2 397.42h-3M60.4 396.39h3M370.2 396.39h-3M60.4 424.8h6M370.2 424.8h-6M60.4 420.16h3M370.2 420.16h-3M60.4 417.45h3M370.2 417.45h-3M60.4 415.53h3M370.2 415.53h-3M60.4 414.04h3M370.2 414.04h-3M60.4 412.82h3M370.2 412.82h-3M60.4 411.79h3M370.2 411.79h-3M60.4 410.89h3M370.2 410.89h-3M60.4 410.1h3M370.2 410.1h-3M60.4 440.2h6M370.2 440.2h-6M60.4 435.56h3M370.2 435.56h-3M60.4 432.85h3M370.2 432.85h-3M60.4 430.93h3M370.2 430.93h-3M60.4 429.44h3M370.2 429.44h-3M60.4 428.22h3M370.2 428.22h-3M60.4 427.19h3M370.2 427.19h-3M60.4 426.29h3M370.2 426.29h-3M60.4 425.5h3M370.2 425.5h-3M60.4 455.6h6M370.2 455.6h-6M60.4 450.96h3M370.2 450.96h-3M60.4 448.25h3M370.2 448.25h-3M60.4 446.33h3M370.2 446.33h-3M60.4 444.84h3M370.2 444.84h-3M60.4 443.62h3M370.2 443.62h-3M60.4 442.59h3M370.2 442.59h-3M60.4 441.69h3M370.2 441.69h-3M60.4 440.9h3M370.2 440.9h-3M60.4 471h6M370.2 471h-6M60.4 466.36h3M370.2 466.36h-3M60.4 463.65h3M370.2 463.65h-3M60.4 461.73h3M370.2 461.73h-3M60.4 460.24h3M370.2 460.24h-3M60.4 459.02h3M370.2 459.02h-3M60.4 457.99h3M370.2 457.99h-3M60.4 457.09h3M370.2 457.09h-3M60.4 456.3h3M370.2 456.3h-3M60.4 477.13h3M370.2 477.13h-3M60.4 475.64h3M370.2 475.64h-3M60.4 474.42h3M370.2 474.42h-3M60.4 473.39h3M370.2 473.39h-3M60.4 472.49h3M370.2 472.49h-3M60.4 471.7h3M370.2 471.7h-3M65.83 478.9v-1.6M65.83 395.5v1.6M71.26 478.9v-1.6M71.26 395.5v1.6M76.69 478.9v-1.6M76.69 395.5v1.6M82.12 478.9v-1.6M82.12 395.5v1.6M87.55 478.9v-1.6M87.55 395.5v1.6M92.98 478.9v-1.6M92.98 395.5v1.6M98.41 478.9v-1.6M98.41 395.5v1.6M103.84 478.9v-1.6M103.84 395.5v1.6M109.27 478.9v-1.6M109.27 395.5v1.6M114.7 478.9v-3.2M114.7 395.5v3.2M120.13 478.9v-1.6M120.13 395.5v1.6M125.56 478.9v-1.6M125.56 395.5v1.6M130.99 478.9v-1.6M130.99 395.5v1.6M136.42 478.9v-1.6M136.42 395.5v1.6M141.85 478.9v-1.6M141.85 395.5v1.6M147.28 478.9v-1.6M147.28 395.5v1.6M152.71 478.9v-1.6M152.71 395.5v1.6M158.14 478.9v-1.6M158.14 395.5v1.6M163.57 478.9v-1.6M163.57 395.5v1.6M169 478.9v-3.2M169 395.5v3.2M174.43 478.9v-1.6M174.43 395.5v1.6M179.86 478.9v-1.6M179.86 395.5v1.6M185.29 478.9v-1.6M185.29 395.5v1.6M190.72 478.9v-1.6M190.72 395.5v1.6M196.15 478.9v-1.6M196.15 395.5v1.6M201.58 478.9v-1.6M201.58 395.5v1.6M207.01 478.9v-1.6M207.01 395.5v1.6M212.44 478.9v-1.6M212.44 395.5v1.6M217.87 478.9v-1.6M217.87 395.5v1.6M223.3 478.9v-3.2M223.3 395.5v3.2M228.73 478.9v-1.6M228.73 395.5v1.6M234.16 478.9v-1.6M234.16 395.5v1.6M239.59 478.9v-1.6M239.59 395.5v1.6M245.02 478.9v-1.6M245.02 395.5v1.6M250.45 478.9v-1.6M250.45 395.5v1.6M255.88 478.9v-1.6M255.88 395.5v1.6M261.31 478.9v-1.6M261.31 395.5v1.6M266.74 478.9v-1.6M266.74 395.5v1.6M272.17 478.9v-1.6M272.17 395.5v1.6M277.6 478.9v-3.2M277.6 395.5v3.2M283.03 478.9v-1.6M283.03 395.5v1.6M288.46 478.9v-1.6M288.46 395.5v1.6M293.89 478.9v-1.6M293.89 395.5v1.6M299.32 478.9v-1.6M299.32 395.5v1.6M304.75 478.9v-1.6M304.75 395.5v1.6M310.18 478.9v-1.6M310.18 395.5v1.6M315.61 478.9v-1.6M315.61 395.5v1.6M321.04 478.9v-1.6M321.04 395.5v1.6M326.47 478.9v-1.6M326.47 395.5v1.6M331.9 478.9v-3.2M331.9 395.5v3.2M337.33 478.9v-1.6M337.33 395.5v1.6M342.76 478.9v-1.6M342.76 395.5v1.6M348.19 478.9v-1.6M348.19 395.5v1.6M353.62 478.9v-1.6M353.62 395.5v1.6M359.05 478.9v-1.6M359.05 395.5v1.6M364.48 478.9v-1.6M364.48 395.5v1.6" stroke="#000" stroke-width="0.8" fill="none"/>
<rect x="60.4" y="395.5" width="309.8" height="83.4" fill="none" stroke="#000" stroke-width="1.0"/>
<g clip-path="url(#c3)" fill="none" stroke-linejoin="round">
<path d="M60.3 425C60.34 431 60.4 444.7 60.5 455C60.6 465.3 60.6 472.42 60.8 476.5C61 480.58 60.32 478.22 61.5 475.4C62.68 472.58 64.62 467.44 66.7 462.4C68.78 457.36 69.82 455.06 71.9 450.2C73.98 445.34 75.02 442.44 77.1 438.1C79.18 433.76 80.4 431.8 82.3 428.5C84.2 425.2 85.04 423.84 86.6 421.6C88.16 419.36 89.02 418.42 90.1 417.3C91.18 416.18 91.32 416.36 92 416C92.68 415.64 92.5 416.28 93.5 415.5C94.5 414.72 95.6 413.38 97 412.1C98.4 410.82 98.94 410 100.5 409.1C102.06 408.2 102.9 408.12 104.8 407.6C106.7 407.08 107.36 406.82 110 406.5C112.64 406.18 115.22 406.2 118 406C120.78 405.8 122.36 405.4 123.9 405.5C125.44 405.6 125.08 405.94 125.7 406.5C126.32 407.06 126.42 408.16 127 408.3C127.58 408.44 127.5 407.66 128.6 407.2C129.7 406.74 129.28 406.48 132.5 406C135.72 405.52 139.2 405.12 144.7 404.8C150.2 404.48 153.12 404.5 160 404.4C166.88 404.3 174.9 404.08 179.1 404.3C183.3 404.52 180.32 404.88 181 405.5C181.68 406.12 181.86 407.2 182.5 407.4C183.14 407.6 182.8 406.88 184.2 406.5C185.6 406.12 185.68 405.92 189.5 405.5C193.32 405.08 196.2 404.62 203.3 404.4C210.4 404.18 216.16 404.4 225 404.4C233.84 404.4 242.64 404.16 247.5 404.4C252.36 404.64 248.66 405 249.3 405.6C249.94 406.2 250.08 407.22 250.7 407.4C251.32 407.58 251 406.88 252.4 406.5C253.8 406.12 254.8 405.88 257.7 405.5C260.6 405.12 260.44 404.82 266.9 404.6C273.36 404.38 279.98 404.42 290 404.4C300.02 404.38 311.24 404.22 317 404.5C322.76 404.78 318.18 405.16 318.8 405.8C319.42 406.44 319.5 407.52 320.1 407.7C320.7 407.88 320.6 407.1 321.8 406.7C323 406.3 322.46 406.12 326.1 405.7C329.74 405.28 331.14 404.86 340 404.6C348.86 404.34 364.32 404.44 370.4 404.4" stroke="#ff3c14" stroke-width="1.0"/>
<path d="M60.6 471.9C61.12 472.6 61.64 474.7 63.2 475.4C64.76 476.1 66.14 475.58 68.4 475.4C70.66 475.22 72.94 475.72 74.5 474.5C76.06 473.28 75.34 472.76 76.2 469.3C77.06 465.84 77.76 462.4 78.8 457.2C79.84 452 80.36 448.16 81.4 443.3C82.44 438.44 82.78 436.54 84 432.9C85.22 429.26 86.12 427.54 87.5 425.1C88.88 422.66 89.7 422.1 90.9 420.7C92.1 419.3 92.46 417.74 93.5 418.1C94.54 418.46 95.06 421.46 96.1 422.5C97.14 423.54 97.72 423.8 98.7 423.3C99.68 422.8 100.12 421.2 101 420C101.88 418.8 102.16 417.16 103.1 417.3C104.04 417.44 104.32 419.14 105.7 420.7C107.08 422.26 108.26 423.54 110 425.1C111.74 426.66 112.84 427.36 114.4 428.5C115.96 429.64 116.42 430.96 117.8 430.8C119.18 430.64 120.08 429.72 121.3 427.7C122.52 425.68 122.94 424.18 123.9 420.7C124.86 417.22 125.42 411.34 126.1 410.3C126.78 409.26 126.64 413.06 127.3 415.5C127.96 417.94 128.52 421.46 129.4 422.5C130.28 423.54 130.56 421.4 131.7 420.7C132.84 420 133.9 419.68 135.1 419C136.3 418.32 136.66 416.78 137.7 417.3C138.74 417.82 139.08 419.36 140.3 421.6C141.52 423.84 142.24 425.9 143.8 428.5C145.36 431.1 146.36 432.16 148.1 434.6C149.84 437.04 150.76 438.26 152.5 440.7C154.24 443.14 155.06 444.72 156.8 446.8C158.54 448.88 159.8 450 161.2 451.1C162.6 452.2 162.6 452.48 163.8 452.3C165 452.12 165.88 452.18 167.2 450.2C168.52 448.22 169.06 445.7 170.4 442.4C171.74 439.1 172.52 437.16 173.9 433.7C175.28 430.24 176.1 428.38 177.3 425.1C178.5 421.82 178.92 420.42 179.9 417.3C180.88 414.18 181.4 409.5 182.2 409.5C183 409.5 183.14 415.4 183.9 417.3C184.66 419.2 184.88 418.48 186 419C187.12 419.52 188.12 419.04 189.5 419.9C190.88 420.76 191.7 423.48 192.9 423.3C194.1 423.12 194.56 421.08 195.5 419C196.44 416.92 196.8 412.2 197.6 412.9C198.4 413.6 198.62 419.2 199.5 422.5C200.38 425.8 200.96 428.54 202 429.4C203.04 430.26 203.74 427.32 204.7 426.8C205.66 426.28 205.68 426.1 206.8 426.8C207.92 427.5 208.74 428.22 210.3 430.3C211.86 432.38 212.76 434.08 214.6 437.2C216.44 440.32 217.48 442.78 219.5 445.9C221.52 449.02 222.62 450.82 224.7 452.8C226.78 454.78 228.16 455.8 229.9 455.8C231.64 455.8 232 454.96 233.4 452.8C234.8 450.64 235.52 448.28 236.9 445C238.28 441.72 238.92 439.52 240.3 436.4C241.68 433.28 242.5 432.02 243.8 429.4C245.1 426.78 245.76 426.24 246.8 423.3C247.84 420.36 248.32 417.12 249 414.7C249.68 412.28 249.5 410.86 250.2 411.2C250.9 411.54 251.34 415.02 252.5 416.4C253.66 417.78 254.62 417.24 256 418.1C257.38 418.96 258.02 419.4 259.4 420.7C260.78 422 261.86 424.94 262.9 424.6C263.94 424.26 263.94 420.98 264.6 419C265.26 417.02 265.52 414.2 266.2 414.7C266.88 415.2 267.22 418.9 268 421.5C268.78 424.1 269.1 426.82 270.1 427.7C271.1 428.58 271.9 426.08 273 425.9C274.1 425.72 274.38 425.76 275.6 426.8C276.82 427.84 277.54 428.84 279.1 431.1C280.66 433.36 281.68 435.32 283.4 438.1C285.12 440.88 285.96 442.4 287.7 445C289.44 447.6 290.36 449.18 292.1 451.1C293.84 453.02 294.92 453.74 296.4 454.6C297.88 455.46 298.18 455.76 299.5 455.4C300.82 455.04 301.7 454.52 303 452.8C304.3 451.08 304.88 449.58 306 446.8C307.12 444.02 307.56 441.86 308.6 438.9C309.64 435.94 310 434.94 311.2 432C312.4 429.06 313.4 427.32 314.6 424.2C315.8 421.08 316.1 419.18 317.2 416.4C318.3 413.62 319.18 409.96 320.1 410.3C321.02 410.64 320.94 416.7 321.8 418.1C322.66 419.5 323.18 416.94 324.4 417.3C325.62 417.66 326.52 418.52 327.9 419.9C329.28 421.28 330.14 424.38 331.3 424.2C332.46 424.02 332.76 420.9 333.7 419C334.64 417.1 335.16 414 336 414.7C336.84 415.4 336.92 419.9 337.9 422.5C338.88 425.1 339.62 427.02 340.9 427.7C342.18 428.38 342.74 425.22 344.3 425.9C345.86 426.58 346.78 428.5 348.7 431.1C350.62 433.7 351.82 435.76 353.9 438.9C355.98 442.04 357.02 443.84 359.1 446.8C361.18 449.76 362.56 451.46 364.3 453.7C366.04 455.94 366.58 456.54 367.8 458C369.02 459.46 369.88 460.4 370.4 461" stroke="#2614f4" stroke-width="1.0" stroke-dasharray="4.4 3.7"/>
<path d="M60.4 409.5H370.2" stroke="#1a00f0" stroke-width="1.35" stroke-dasharray="4.4 2 1.2 2"/>
</g>
<text x="28.3" y="414.8" font-size="13.6" textLength="16.0" lengthAdjust="spacingAndGlyphs">10</text>
<path d="M45.4 405.7H50.3" stroke="#000" stroke-width="1.0" fill="none"/>
<text x="50.7" y="408.6" font-size="8.4" class="mono" textLength="4.9" lengthAdjust="spacingAndGlyphs" stroke="#000" stroke-width="0.2">1</text>
<text x="28.3" y="430.2" font-size="13.6" textLength="16.0" lengthAdjust="spacingAndGlyphs">10</text>
<path d="M45.4 421.1H50.3" stroke="#000" stroke-width="1.0" fill="none"/>
<text x="50.7" y="424" font-size="8.4" class="mono" textLength="4.9" lengthAdjust="spacingAndGlyphs" stroke="#000" stroke-width="0.2">2</text>
<text x="28.3" y="445.6" font-size="13.6" textLength="16.0" lengthAdjust="spacingAndGlyphs">10</text>
<path d="M45.4 436.5H50.3" stroke="#000" stroke-width="1.0" fill="none"/>
<text x="50.7" y="439.4" font-size="8.4" class="mono" textLength="4.9" lengthAdjust="spacingAndGlyphs" stroke="#000" stroke-width="0.2">3</text>
<text x="28.3" y="461" font-size="13.6" textLength="16.0" lengthAdjust="spacingAndGlyphs">10</text>
<path d="M45.4 451.9H50.3" stroke="#000" stroke-width="1.0" fill="none"/>
<text x="50.7" y="454.8" font-size="8.4" class="mono" textLength="4.9" lengthAdjust="spacingAndGlyphs" stroke="#000" stroke-width="0.2">4</text>
<text x="28.3" y="476.4" font-size="13.6" textLength="16.0" lengthAdjust="spacingAndGlyphs">10</text>
<path d="M45.4 467.3H50.3" stroke="#000" stroke-width="1.0" fill="none"/>
<text x="50.7" y="470.2" font-size="8.4" class="mono" textLength="4.9" lengthAdjust="spacingAndGlyphs" stroke="#000" stroke-width="0.2">5</text>
<text x="56.4" y="498.5" font-size="12.8" class="mono" textLength="8.0" lengthAdjust="spacingAndGlyphs">0</text>
<text x="110.8" y="498.5" font-size="13.4" textLength="7.6" lengthAdjust="spacingAndGlyphs">1</text>
<text x="165" y="498.5" font-size="12.8" class="mono" textLength="8.0" lengthAdjust="spacingAndGlyphs">2</text>
<text x="219.3" y="498.5" font-size="12.8" class="mono" textLength="8.0" lengthAdjust="spacingAndGlyphs">3</text>
<text x="273.6" y="498.5" font-size="12.8" class="mono" textLength="8.0" lengthAdjust="spacingAndGlyphs">4</text>
<text x="327.9" y="498.5" font-size="12.8" class="mono" textLength="8.0" lengthAdjust="spacingAndGlyphs">5</text>
<text x="82" y="475" font-size="11.5" letter-spacing="1.0" stroke="#000" stroke-width="0.25">Case</text>
<text x="113.5" y="475" font-size="11.5" letter-spacing="-0.3" stroke="#000" stroke-width="0.25">III</text>
<text x="199.6" y="514.3" font-size="15.5" font-style="italic" textLength="5.2" lengthAdjust="spacingAndGlyphs">t</text>
<path d="M205.6 516.9L212.8 502.9" stroke="#000" stroke-width="0.9" fill="none"/>
<text x="213.9" y="514.3" font-size="16.0" font-style="italic">τ</text>
<text x="222.2" y="517.3" font-size="10.0" letter-spacing="0.5" stroke="#000" stroke-width="0.25">td</text>
<g transform="translate(17.2,266) rotate(-90)">
<text x="0.9" y="0" font-size="15.5" font-style="italic" stroke="#000" stroke-width="0.12">B</text>
<path d="M1.1 -14.7H10.3" stroke="#000" stroke-width="1.6" fill="none"/>
<text x="10.3" y="3.6" font-size="10.0" textLength="16.6" lengthAdjust="spacing" stroke="#000" stroke-width="0.2">rms</text>
<path d="M28.3 2.2L35.1 -11.4" stroke="#000" stroke-width="0.9" fill="none"/>
<text x="36.9" y="0" font-size="15.5" font-style="italic" stroke="#000" stroke-width="0.12">B</text>
<text x="46.8" y="3.6" font-size="10.0" textLength="14.6" lengthAdjust="spacing" stroke="#000" stroke-width="0.2">eq0</text>
<text x="74.8" y="0" font-size="15.5" textLength="24.8" lengthAdjust="spacing" stroke="#000" stroke-width="0.12">and</text>
<text x="114.6" y="0" font-size="15.5" font-style="italic" stroke="#000" stroke-width="0.12" textLength="10" lengthAdjust="spacingAndGlyphs">U</text>
<path d="M114.7 -14.7H123.5" stroke="#000" stroke-width="1.6" fill="none"/>
<text x="124.3" y="3.6" font-size="10.0" textLength="16.6" lengthAdjust="spacing" stroke="#000" stroke-width="0.2">rms</text>
<path d="M142.5 2.2L149.3 -11.4" stroke="#000" stroke-width="0.9" fill="none"/>
<text x="150.3" y="0" font-size="15.5" font-style="italic" stroke="#000" stroke-width="0.12" textLength="8.7" lengthAdjust="spacingAndGlyphs">u</text>
<text x="159.7" y="3.6" font-size="10.0" textLength="16.6" lengthAdjust="spacing" stroke="#000" stroke-width="0.2">rms</text>
</g>
</svg>
</body></html>
